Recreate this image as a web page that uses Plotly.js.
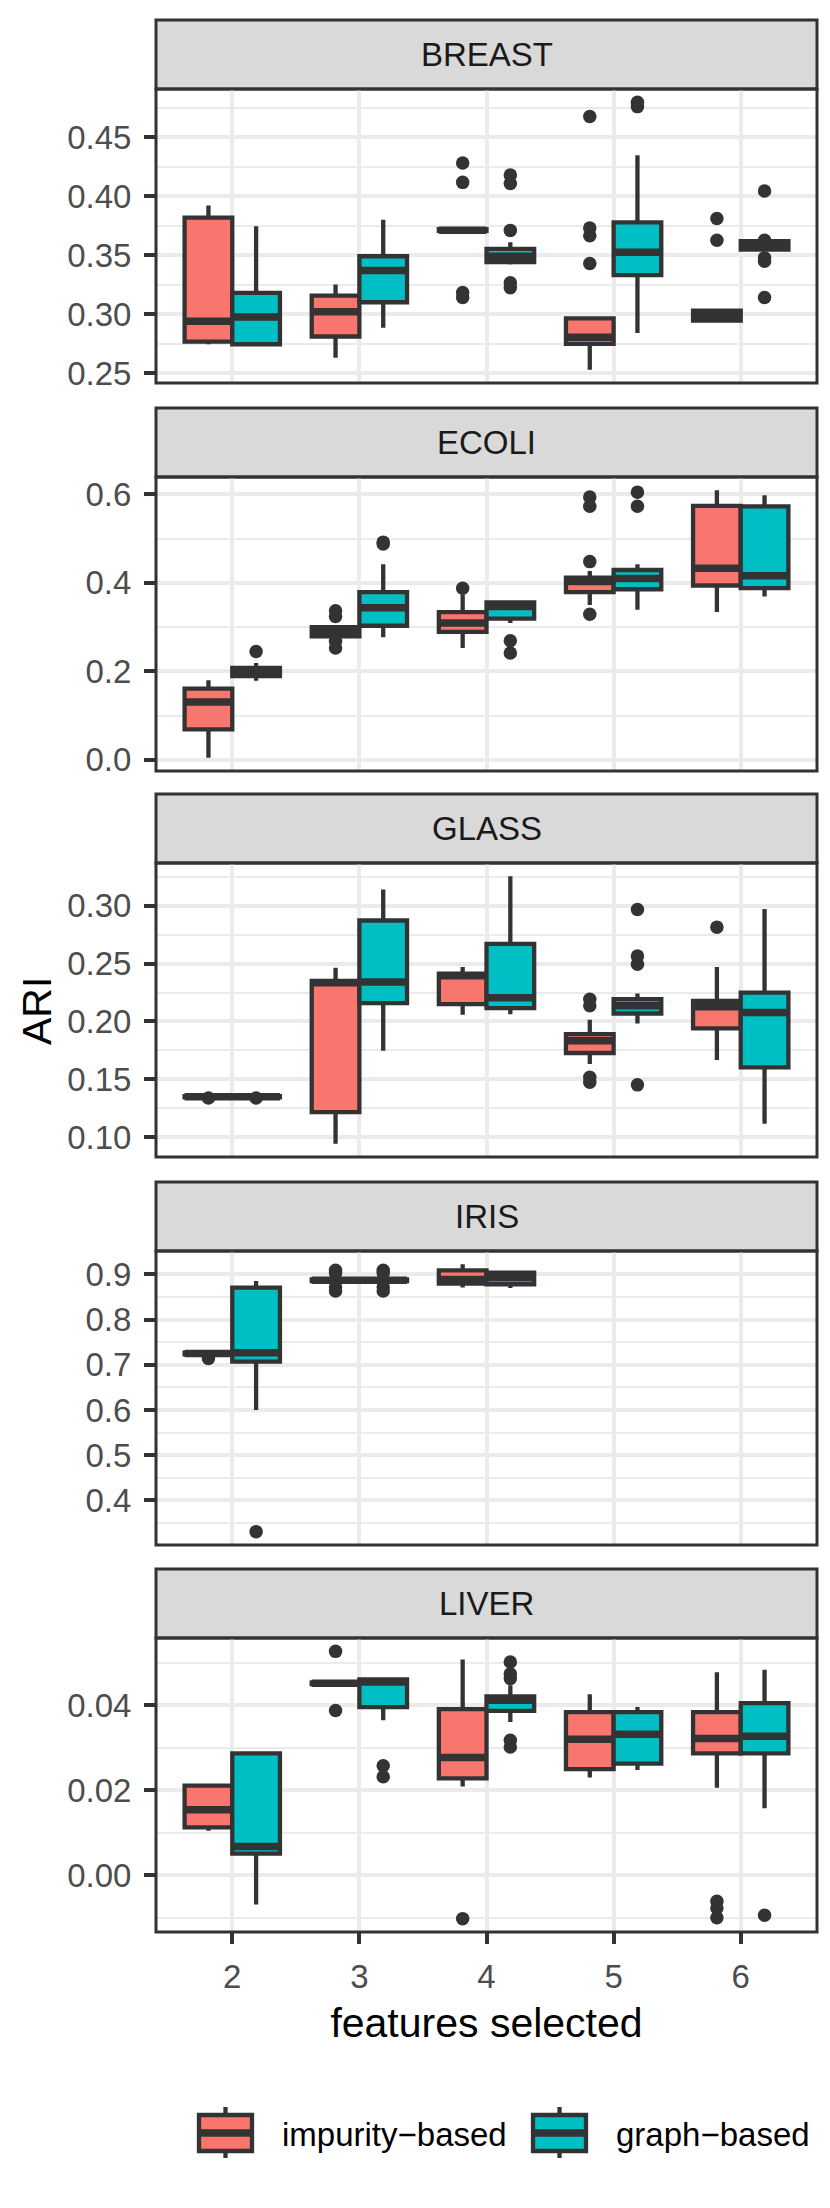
<!DOCTYPE html>
<html>
<head>
<meta charset="utf-8">
<script src="https://cdn.plot.ly/plotly-3.0.1.min.js"></script>
<style>
  html, body { margin: 0; padding: 0; background: #fff; }
  #chart { width: 830px; height: 2208px; }
</style>
</head>
<body>
<div id="chart"></div>
<script>
var features = [2, 3, 4, 5, 6];
var datasets = ["BREAST", "ECOLI", "GLASS", "IRIS", "LIVER"];
var methods = ["impurity\u2212based", "graph\u2212based"];

// box stats, one row per dataset, one column per number of features
var impLow = [
  [0.2744, 0.263, 0.3705, 0.2529, 0.2944],
  [0.005, 0.279, 0.253, 0.350, 0.334],
  [0.1345, 0.0946, 0.2057, 0.1633, 0.1668],
  [0.723, 0.885, 0.8706, null, null],
  [0.0105, 0.0450, 0.0209, 0.0230, 0.0206]
];
var impQ1 = [
  [0.2767, 0.281, 0.3705, 0.2747, 0.2944],
  [0.069, 0.279, 0.289, 0.379, 0.394],
  [0.1345, 0.1218, 0.2149, 0.1728, 0.194],
  [0.723, 0.885, 0.8794, null, null],
  [0.0113, 0.0450, 0.0228, 0.0250, 0.0287]
];
var impMed = [
  [0.294, 0.302, 0.371, 0.2803, 0.2977],
  [0.131, 0.2895, 0.309, 0.403, 0.433],
  [0.135, 0.2335, 0.2395, 0.1834, 0.2126],
  [0.725, 0.887, 0.8883, null, null],
  [0.0154, 0.0452, 0.0277, 0.0320, 0.0322]
];
var impQ3 = [
  [0.3817, 0.3157, 0.372, 0.2963, 0.3028],
  [0.161, 0.300, 0.334, 0.412, 0.574],
  [0.1355, 0.235, 0.2413, 0.1891, 0.2178],
  [0.727, 0.889, 0.9088, null, null],
  [0.0211, 0.0454, 0.0391, 0.0384, 0.0384]
];
var impHigh = [
  [0.392, 0.325, 0.372, 0.2963, 0.3028],
  [0.180, 0.300, 0.373, 0.427, 0.609],
  [0.1355, 0.2464, 0.247, 0.2014, 0.247],
  [0.727, 0.889, 0.922, null, null],
  [0.0211, 0.0454, 0.0508, 0.0426, 0.0478]
];
var impOut = [
  [[], [], [0.4281, 0.4116, 0.3182, 0.3140], [0.4674, 0.3729, 0.3664, 0.3429], [0.381, 0.3625]],
  [[], [0.337, 0.324, 0.268, 0.253], [0.388], [0.594, 0.573, 0.448, 0.329], []],
  [[0.1340], [], [], [0.2192, 0.2135, 0.1519, 0.1476], [0.2814]],
  [[0.714], [0.909, 0.903, 0.872, 0.863], [], [], []],
  [[], [0.0527, 0.0388], [-0.0102], [], [-0.0061, -0.0077, -0.0100]]
];

var grLow = [
  [0.273, 0.2885, 0.342, 0.284, 0.3547],
  [0.179, 0.277, 0.309, 0.339, 0.369],
  [0.1345, 0.1748, 0.2063, 0.1983, 0.1117],
  [0.600, 0.885, 0.870, null, null],
  [-0.0069, 0.0365, 0.0361, 0.0248, 0.0158]
];
var grQ1 = [
  [0.2744, 0.310, 0.344, 0.333, 0.3547],
  [0.189, 0.303, 0.319, 0.3855, 0.388],
  [0.1345, 0.2158, 0.2115, 0.2069, 0.1604],
  [0.707, 0.885, 0.878, null, null],
  [0.0051, 0.0396, 0.0387, 0.0263, 0.0287]
];
var grMed = [
  [0.2975, 0.337, 0.349, 0.3524, 0.358],
  [0.199, 0.344, 0.3465, 0.410, 0.416],
  [0.135, 0.2341, 0.2205, 0.2135, 0.2077],
  [0.7267, 0.887, 0.8927, null, null],
  [0.0068, 0.0455, 0.0412, 0.0332, 0.0327]
];
var grQ3 = [
  [0.318, 0.349, 0.3552, 0.3777, 0.3617],
  [0.208, 0.379, 0.356, 0.429, 0.573],
  [0.1355, 0.2871, 0.267, 0.2192, 0.2249],
  [0.8706, 0.889, 0.9037, null, null],
  [0.0287, 0.0461, 0.0421, 0.0384, 0.0405]
];
var grHigh = [
  [0.3744, 0.380, 0.3608, 0.4346, 0.3617],
  [0.219, 0.442, 0.360, 0.442, 0.598],
  [0.1355, 0.3138, 0.3252, 0.2241, 0.2971],
  [0.8853, 0.889, 0.9037, null, null],
  [0.0288, 0.0461, 0.0447, 0.0396, 0.0484]
];
var grOut = [
  [[], [], [0.4178, 0.4107, 0.3709, 0.3266, 0.3224], [0.4794, 0.4758], [0.4043, 0.3625, 0.3476, 0.3448, 0.314]],
  [[0.245], [0.492, 0.488], [0.269, 0.2415], [0.605, 0.573], []],
  [[0.1340], [], [], [0.2966, 0.2564, 0.2493, 0.1453], []],
  [[0.331], [0.909, 0.903, 0.872, 0.863], [], [], []],
  [[], [0.0258, 0.0232], [0.0502, 0.0474, 0.0463, 0.0318, 0.0302], [], [-0.0094]]
];

var yDticks = [0.05, 0.2, 0.05, 0.1, 0.02];
var yFormats = [".2f", ".1f", ".2f", ".1f", ".2f"];

// look
var colors = ["#F8766D", "#00BFC4"];
var dark = "#333333";
var grid = "#EBEBEB";
var font = "Liberation Sans, Arial, Helvetica, sans-serif";
var W = 830, H = 2208;
var ML = 156, MR = 13, MT = 0, MB = 276;
var plotH = H - MT - MB, plotW = W - ML - MR;
var panelTop = [89, 477, 863, 1251, 1638];
var panelH = 294, stripH = 69;
var dodge = 0.1875, boxW = 0.375;
var boxLine = 4.3, medLine = 7.5;

function px2x(px) { return (px - ML) / plotW; }
function py2y(py) { return 1 - (py - MT) / plotH; }

var data = [];
var layout = {
  width: W, height: H,
  margin: { l: ML, r: MR, t: MT, b: MB },
  paper_bgcolor: "white",
  plot_bgcolor: "white",
  showlegend: false,
  font: { family: font, size: 33, color: "#4D4D4D" },
  shapes: [],
  annotations: []
};

function addGroup(k, low, q1, med, q3, high, out, shift, color) {
  var xa = k === 0 ? "x" : "x" + (k + 1);
  var ya = k === 0 ? "y" : "y" + (k + 1);
  var pos = [], bq1 = [], bmed = [], bq3 = [], blo = [], bhi = [];
  var mx = [], my = [], ox = [], oy = [];
  features.forEach(function (f, j) {
    if (med[k][j] === null) return;
    var p = f + shift;
    pos.push(p);
    bq1.push(q1[k][j]); bmed.push(med[k][j]); bq3.push(q3[k][j]);
    blo.push(low[k][j]); bhi.push(high[k][j]);
    mx.push(p - boxW / 2, p + boxW / 2, null);
    my.push(med[k][j], med[k][j], null);
    out[k][j].forEach(function (v) { ox.push(p); oy.push(v); });
  });
  data.push({
    type: "box", xaxis: xa, yaxis: ya,
    x: pos, q1: bq1, median: bmed, q3: bq3, lowerfence: blo, upperfence: bhi,
    width: boxW, whiskerwidth: 0, boxpoints: false,
    fillcolor: color, line: { color: dark, width: boxLine },
    hoverinfo: "skip", showlegend: false
  });
  // thicker median bar, as in ggplot
  data.push({
    type: "scatter", mode: "lines", xaxis: xa, yaxis: ya,
    x: mx, y: my, line: { color: dark, width: medLine },
    hoverinfo: "skip", showlegend: false
  });
  data.push({
    type: "scatter", mode: "markers", xaxis: xa, yaxis: ya,
    x: ox, y: oy, marker: { color: dark, size: 13.5 },
    hoverinfo: "skip", showlegend: false
  });
}

datasets.forEach(function (name, k) {
  addGroup(k, impLow, impQ1, impMed, impQ3, impHigh, impOut, -dodge, colors[0]);
  addGroup(k, grLow, grQ1, grMed, grQ3, grHigh, grOut, dodge, colors[1]);

  // ggplot-style range: data extent plus 5% on each side
  var all = [];
  [impLow, impHigh, grLow, grHigh].forEach(function (a) {
    a[k].forEach(function (v) { if (v !== null) all.push(v); });
  });
  [impOut, grOut].forEach(function (a) {
    a[k].forEach(function (l) { all = all.concat(l); });
  });
  var lo = Math.min.apply(null, all), hi = Math.max.apply(null, all);
  var pad = (hi - lo) * 0.05;

  var top = panelTop[k], bottom = panelTop[k] + panelH;
  var sfx = k === 0 ? "" : String(k + 1);
  var last = k === datasets.length - 1;

  layout["yaxis" + sfx] = {
    anchor: "x" + sfx,
    domain: [py2y(bottom), py2y(top)],
    range: [lo - pad, hi + pad],
    tick0: 0, dtick: yDticks[k], tickformat: yFormats[k],
    ticks: "outside", ticklen: 11, tickwidth: 4, tickcolor: dark,
    ticklabelstandoff: 6,
    tickfont: { size: 33, color: "#4D4D4D" },
    showgrid: true, gridcolor: grid, gridwidth: 4,
    minor: { tick0: 0, dtick: yDticks[k] / 2, showgrid: true, gridcolor: grid, gridwidth: 2, ticks: "" },
    zeroline: false, showline: false, fixedrange: true
  };
  layout["xaxis" + sfx] = {
    anchor: "y" + sfx,
    domain: [0, 1],
    range: [1.4, 6.6],
    tickvals: features,
    showticklabels: last,
    ticks: last ? "outside" : "",
    ticklen: 11, tickwidth: 4, tickcolor: dark,
    ticklabelstandoff: 4,
    tickfont: { size: 33, color: "#4D4D4D" },
    showgrid: true, gridcolor: grid, gridwidth: 4,
    zeroline: false, showline: false, fixedrange: true
  };
  if (last) {
    layout["xaxis" + sfx].title = {
      text: "features selected",
      font: { size: 41, color: "black" },
      standoff: 14
    };
    layout["xaxis" + sfx].automargin = true;
  }

  // strip on top of the panel
  layout.shapes.push({
    type: "rect", xref: "x" + sfx + " domain", yref: "y" + sfx + " domain",
    x0: 0, x1: 1, y0: 1, y1: 1 + stripH / panelH,
    fillcolor: "#D9D9D9", line: { color: dark, width: 3 }, layer: "below"
  });
  layout.annotations.push({
    xref: "x" + sfx + " domain", yref: "y" + sfx + " domain",
    x: 0.5, y: 1 + stripH / panelH / 2, text: name, showarrow: false,
    xanchor: "center", yanchor: "middle",
    font: { size: 33, color: "#1A1A1A" }
  });
  // panel border
  layout.shapes.push({
    type: "rect", xref: "x" + sfx + " domain", yref: "y" + sfx + " domain",
    x0: 0, x1: 1, y0: 0, y1: 1,
    fillcolor: "rgba(0,0,0,0)", line: { color: dark, width: 3 }, layer: "above"
  });
});

// y axis title
layout.annotations.push({
  xref: "paper", yref: "paper", x: px2x(37), y: py2y(1011),
  text: "ARI", textangle: -90, showarrow: false,
  xanchor: "center", yanchor: "middle",
  font: { size: 41, color: "black" }
});

// legend at the bottom, drawn like ggplot keys
var keyLeft = [199, 533], labelLeft = [280, 614];
methods.forEach(function (m, i) {
  var x0 = keyLeft[i], x1 = keyLeft[i] + 53, xc = (x0 + x1) / 2;
  layout.shapes.push({
    type: "line", xref: "paper", yref: "paper",
    x0: px2x(xc), x1: px2x(xc), y0: py2y(2107), y1: py2y(2158),
    line: { color: dark, width: boxLine }
  });
  layout.shapes.push({
    type: "rect", xref: "paper", yref: "paper",
    x0: px2x(x0), x1: px2x(x1), y0: py2y(2151), y1: py2y(2115),
    fillcolor: colors[i], line: { color: dark, width: boxLine }
  });
  layout.shapes.push({
    type: "line", xref: "paper", yref: "paper",
    x0: px2x(x0), x1: px2x(x1), y0: py2y(2133), y1: py2y(2133),
    line: { color: dark, width: medLine }
  });
  layout.annotations.push({
    xref: "paper", yref: "paper", x: px2x(labelLeft[i]), y: py2y(2134),
    text: m, showarrow: false, xanchor: "left", yanchor: "middle",
    font: { size: 33, color: "black" }
  });
});

Plotly.newPlot("chart", data, layout, { staticPlot: true, displayModeBar: false });
</script>
</body>
</html>
